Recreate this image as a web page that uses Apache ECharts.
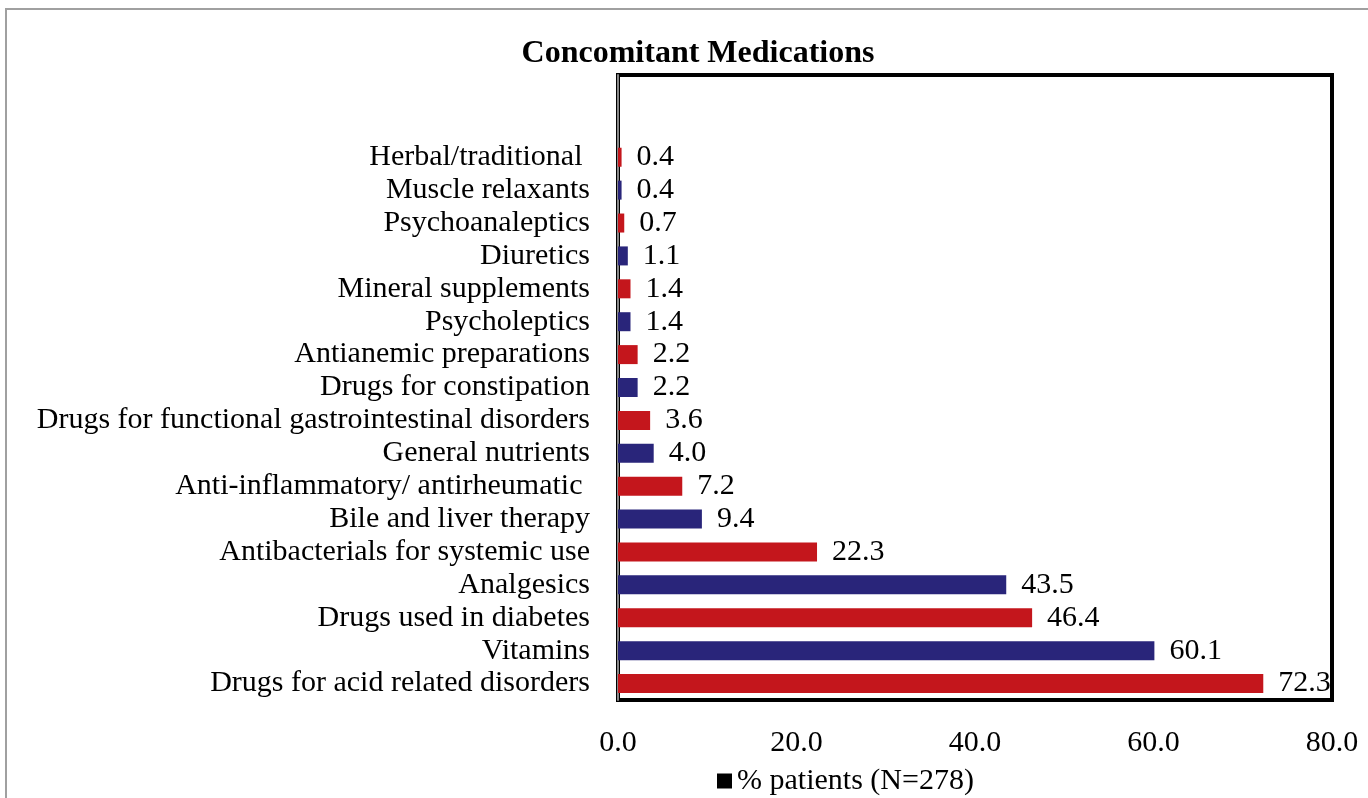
<!DOCTYPE html>
<html>
<head>
<meta charset="utf-8">
<script src="https://cdn.jsdelivr.net/npm/echarts@6/dist/echarts.min.js"></script>
<style>
html,body{margin:0;padding:0;background:#fff;}
#chart{width:1368px;height:798px;}
</style>
</head>
<body>
<div id="chart"></div>
<script>
// bottom-to-top order
var categories = [
  'Drugs for acid related disorders',
  'Vitamins',
  'Drugs used in diabetes',
  'Analgesics',
  'Antibacterials for systemic use',
  'Bile and liver therapy',
  'Anti-inflammatory/ antirheumatic ',
  'General nutrients',
  'Drugs for functional gastrointestinal disorders',
  'Drugs for constipation',
  'Antianemic preparations',
  'Psycholeptics',
  'Mineral supplements',
  'Diuretics',
  'Psychoanaleptics',
  'Muscle relaxants',
  'Herbal/traditional '
];
var values = [72.3, 60.1, 46.4, 43.5, 22.3, 9.4, 7.2, 4.0, 3.6, 2.2, 2.2, 1.4, 1.4, 1.1, 0.7, 0.4, 0.4];
var xTicks = [0, 20, 40, 60, 80];
var seriesName = '% patients (N=278)';
var titleText = 'Concomitant Medications';

var RED = '#C4161C', BLUE = '#29257A';
var FONT = '"Liberation Serif", "Times New Roman", serif';

// two empty category slots above the top bar, as in the source plot area
var cats = categories.concat(['', '']);
var data = values.map(function (v, i) {
  return { value: v, itemStyle: { color: i % 2 === 0 ? RED : BLUE } };
}).concat([null, null]);

var chart = echarts.init(document.getElementById('chart'), null, { renderer: 'canvas' });
chart.setOption({
  animation: false,
  backgroundColor: '#fff',
  graphic: [{
    type: 'rect',
    shape: { x: 6, y: 9, width: 1400, height: 820 },
    style: { fill: 'none', stroke: '#a0a0a0', lineWidth: 2 },
    silent: true, z: -1
  }],
  title: {
    text: titleText,
    left: 693, top: 33, textAlign: 'center',
    textStyle: { fontFamily: FONT, fontWeight: 'bold', fontSize: 32, color: '#000' }
  },
  legend: {
    bottom: -3, left: 712,
    data: [seriesName],
    itemWidth: 15, itemHeight: 15, itemGap: 6,
    icon: 'rect',
    textStyle: { fontFamily: FONT, fontSize: 30, color: '#000' }
  },
  grid: {
    left: 618, right: 36, top: 75, bottom: 98,
    show: true, borderColor: '#000', borderWidth: 4, containLabel: false
  },
  xAxis: {
    type: 'value', min: xTicks[0], max: xTicks[xTicks.length - 1], interval: 20,
    axisLine: { show: false }, axisTick: { show: false }, splitLine: { show: false },
    axisLabel: {
      margin: 28, color: '#000', fontFamily: FONT, fontSize: 30,
      formatter: function (v) { return v.toFixed(1); }
    }
  },
  yAxis: {
    type: 'category', data: cats,
    axisLine: { show: true, lineStyle: { color: '#888', width: 2 } },
    axisTick: { show: false },
    axisLabel: { interval: 0, margin: 28, color: '#000', fontFamily: FONT, fontSize: 30, padding: [8, 0, 0, 0] }
  },
  series: [{
    name: seriesName, type: 'bar', data: data,
    barWidth: 19,
    itemStyle: { color: '#000' },
    label: {
      show: true, position: 'right', distance: 15,
      color: '#000', fontFamily: FONT, fontSize: 30, padding: [8, 0, 0, 0],
      formatter: function (p) { return p.value.toFixed(1); }
    }
  }]
});
</script>
</body>
</html>
